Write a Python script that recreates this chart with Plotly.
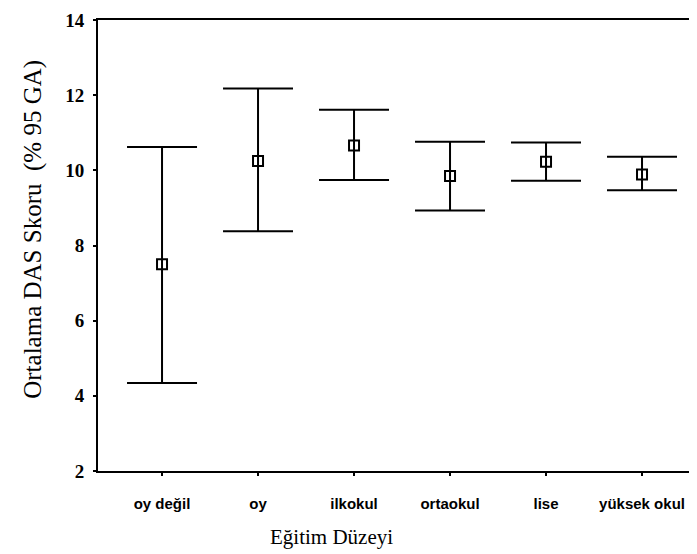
import plotly.graph_objects as go

categories = ["oy değil", "oy", "ilkokul", "ortaokul", "lise", "yüksek okul"]
mean_vals = [7.50, 10.25, 10.66, 9.85, 10.23, 9.89]
lower_vals = [4.34, 8.38, 9.74, 8.93, 9.72, 9.47]
upper_vals = [10.62, 12.18, 11.61, 10.76, 10.74, 10.36]
y_ticks = [2, 4, 6, 8, 10, 12, 14]

err_plus = [u - m for u, m in zip(upper_vals, mean_vals)]
err_minus = [m - l for m, l in zip(mean_vals, lower_vals)]

fig = go.Figure()
fig.add_trace(go.Scatter(
    x=categories, y=mean_vals, mode="markers",
    marker=dict(symbol="square-open", size=10, color="black",
                line=dict(color="black", width=2)),
    error_y=dict(type="data", symmetric=False, array=err_plus,
                 arrayminus=err_minus, color="black", thickness=2, width=35),
    showlegend=False, hoverinfo="skip",
))

fig.update_layout(
    width=697, height=554,
    margin=dict(l=90, r=0, t=12, b=91),
    plot_bgcolor="white", paper_bgcolor="white",
    xaxis=dict(
        type="category", categoryorder="array", categoryarray=categories,
        range=[-0.667, 5.656],
        showline=True, linecolor="black", linewidth=2, mirror=True,
        showgrid=False, zeroline=False,
        ticks="outside", ticklen=3, tickwidth=2, tickcolor="black",
        ticklabelstandoff=15,
        tickfont=dict(family="Liberation Sans", size=15, color="black", weight="bold"),
    ),
    yaxis=dict(
        range=[2, 14], tickvals=y_ticks,
        showline=True, linecolor="black", linewidth=2, mirror=False,
        showgrid=False, zeroline=False,
        ticks="outside", ticklen=3, tickwidth=2, tickcolor="black",
        ticklabelstandoff=5,
        tickfont=dict(family="Liberation Serif", size=19, color="black", weight="bold"),
    ),
    annotations=[
        dict(text="Ortalama DAS Skoru  (% 95 GA)", xref="paper", yref="paper",
             x=-0.107, y=0.535, xanchor="center", yanchor="middle",
             textangle=-90, showarrow=False,
             font=dict(family="Liberation Serif", size=25, color="black")),
        dict(text="Eğitim Düzeyi", xref="paper", yref="paper",
             x=0.384, y=-0.146, xanchor="center", yanchor="middle",
             showarrow=False,
             font=dict(family="Liberation Serif", size=21, color="black")),
    ],
)

fig.write_html("out.html")
